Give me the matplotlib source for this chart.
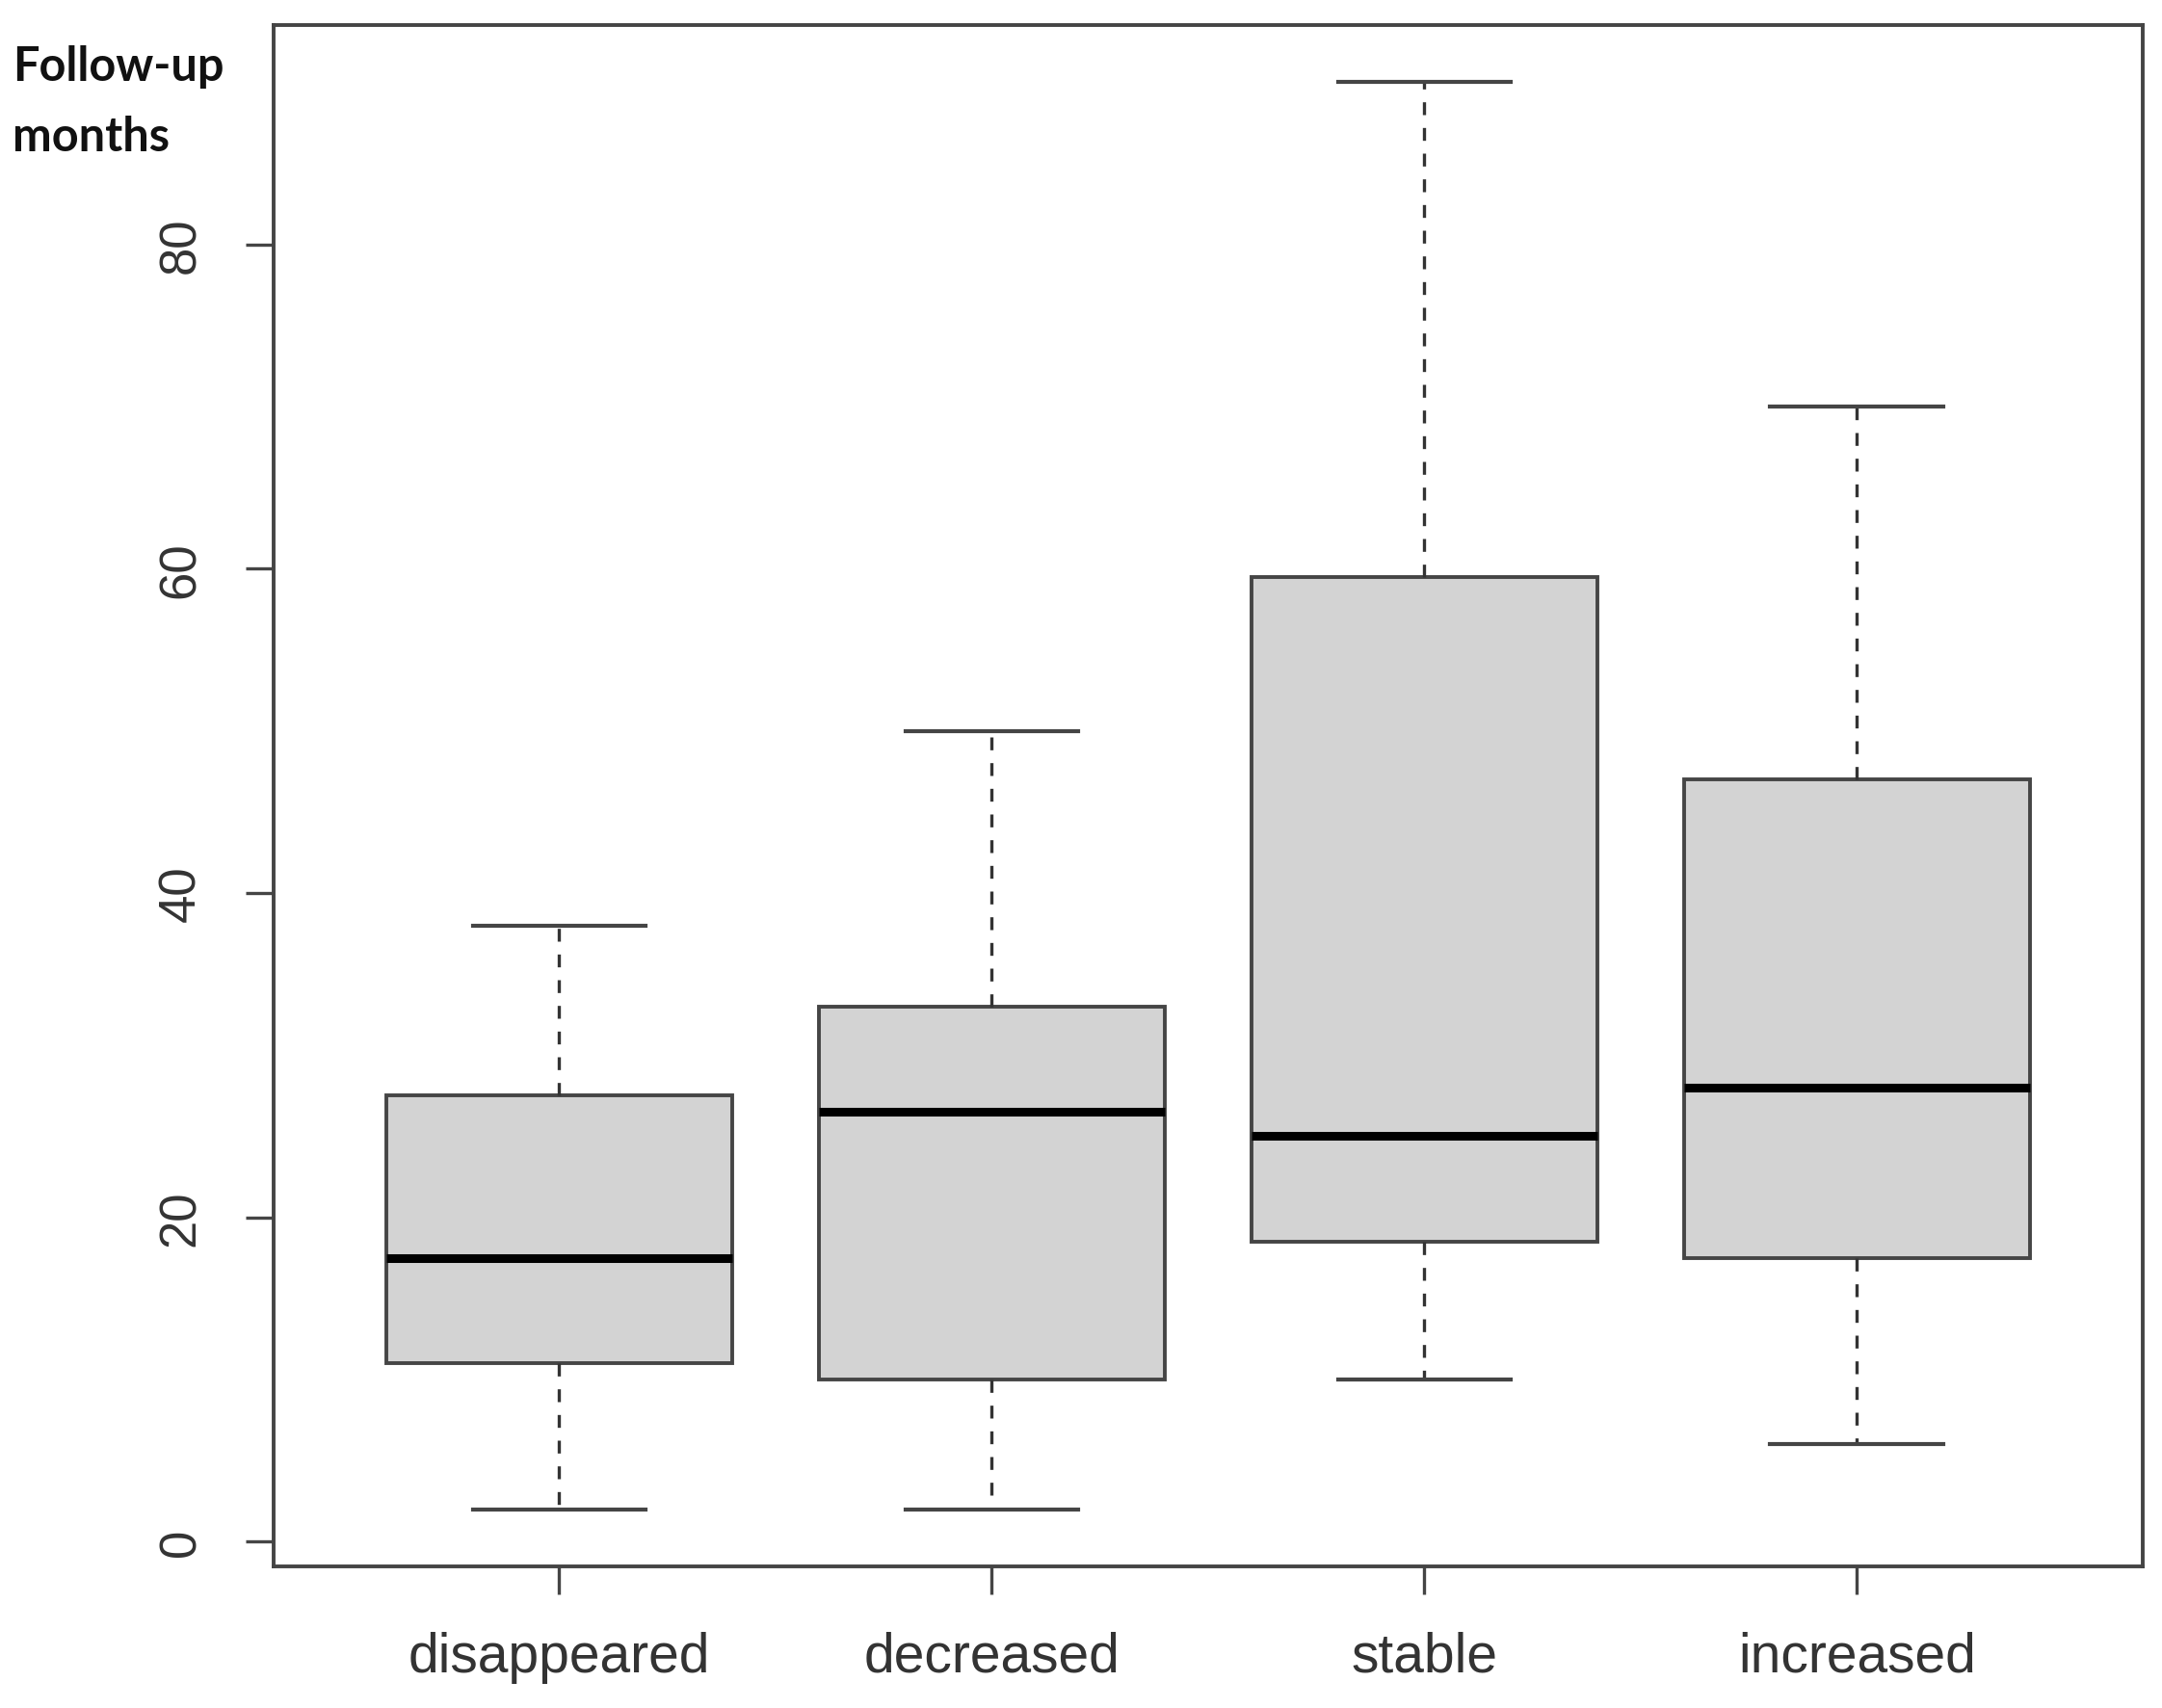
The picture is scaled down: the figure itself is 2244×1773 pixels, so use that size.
import matplotlib.pyplot as plt

# box summary per group (months)
groups = ['disappeared', 'decreased', 'stable', 'increased']
whisker_low = [2, 2, 10, 6]
q1 = [11, 10, 18.5, 17.5]
median = [17.5, 26.5, 25, 28]
q3 = [27.5, 33, 59.5, 47]
whisker_high = [38, 50, 90, 70]
yticks = [0, 20, 40, 60, 80]


def build_stats():
    stats = []
    for i, name in enumerate(groups):
        stats.append(dict(label=name, whislo=whisker_low[i], q1=q1[i], med=median[i],
                          q3=q3[i], whishi=whisker_high[i], fliers=[]))
    return stats


fig = plt.figure(figsize=(22.44, 17.74), dpi=100)
ax = fig.add_axes([0.1266, 0.0829, 0.8643, 0.9019])

edge = '#454545'
ax.bxp(build_stats(), positions=[1, 2, 3, 4], widths=0.8, capwidths=0.4,
       patch_artist=True, showfliers=False,
       boxprops=dict(facecolor='#d3d3d3', edgecolor=edge, linewidth=2.8),
       medianprops=dict(color='black', linewidth=6.5, solid_capstyle='butt'),
       whiskerprops=dict(color='#333333', linewidth=2.4, linestyle=(0, (4.0, 4.0))),
       capprops=dict(color=edge, linewidth=3.0))

ax.set_xlim(0.34, 4.66)
ax.set_ylim(-1.52, 93.52)
ax.set_yticks(yticks)
ax.set_yticklabels([str(t) for t in yticks], family='Liberation Sans', fontsize=38,
                   color='#333333', rotation=90, va='center')
ax.set_xticks([1, 2, 3, 4])
ax.set_xticklabels(groups, family='Liberation Sans', fontsize=41, color='#333333')
ax.tick_params(axis='y', length=21, width=2.4, color=edge, pad=30)
ax.tick_params(axis='x', length=21, width=2.4, color=edge, pad=27)

for s in ax.spines.values():
    s.set_color('#444444')
    s.set_linewidth(2.8)

fig.text(0.006, 1 - 47 / 1774, 'Follow-up\nmonths', family='Lato', fontweight='bold',
         fontsize=35, ha='left', va='top', linespacing=1.75, color='#111111')

fig.savefig('out.png', dpi=100, facecolor='white')
